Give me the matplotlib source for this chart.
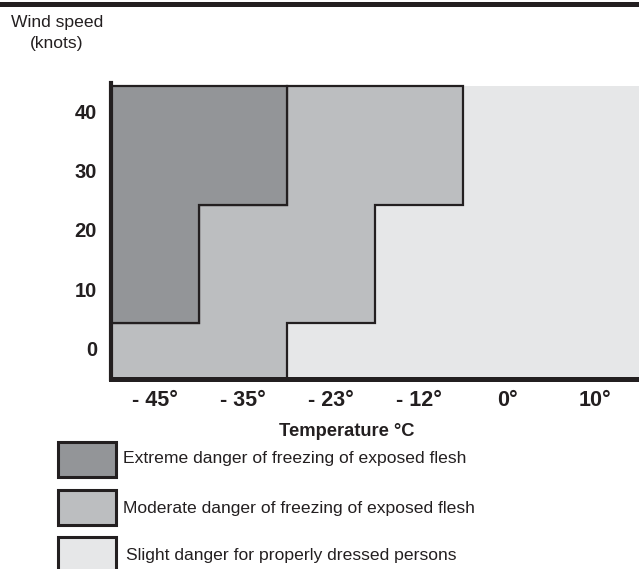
import matplotlib
matplotlib.use('Agg')
import matplotlib.pyplot as plt
from matplotlib.patches import Polygon, Rectangle
from matplotlib.lines import Line2D

# temperature columns and wind speed rows
temp_labels = ['- 45°', '- 35°', '- 23°', '- 12°', '0°', '10°']
wind_ticks = [0, 10, 20, 30, 40]
wind_min, wind_max = -5.2, 44.3

# wind speed (knots) where each danger level starts, per temperature column
moderate_from = [-5.2, -5.2, 4.3, 24.2, 44.3, 44.3]
extreme_from = [4.3, 24.2, 44.3, 44.3, 44.3, 44.3]

zone_names = ['Extreme danger of freezing of exposed flesh',
              'Moderate danger of freezing of exposed flesh',
              'Slight danger for properly dressed persons']
zone_colors = ['#939598', '#bcbec0', '#e6e7e8']
ink = '#231f20'

W, H = 639, 569
REG = ['Liberation Sans', 'DejaVu Sans']


def fx(px):
    return px / W


def fy(py):
    return 1 - py / H


def band_polygon(lo, hi):
    """ Step outline of the columns where hi is above lo """
    cols = [i for i in range(len(lo)) if hi[i] > lo[i]]
    verts = []
    for i in cols:
        verts += [(i - 0.5, hi[i]), (i + 0.5, hi[i])]
    for i in reversed(cols):
        verts += [(i + 0.5, lo[i]), (i - 0.5, lo[i])]
    return verts


fig = plt.figure(figsize=(W / 100, H / 100), dpi=100)
ax = fig.add_axes([fx(111), fy(379.3), fx(639) - fx(111), fy(83) - fy(379.3)])

n = len(temp_labels)
bottom = [wind_min] * n
top = [wind_max] * n

# slight first (no outline), then moderate and extreme with outline
ax.add_patch(Polygon(band_polygon(bottom, moderate_from), closed=True,
                     facecolor=zone_colors[2], edgecolor='none'))
ax.add_patch(Polygon(band_polygon(moderate_from, extreme_from), closed=True,
                     facecolor=zone_colors[1], edgecolor=ink, linewidth=1.6,
                     joinstyle='miter'))
ax.add_patch(Polygon(band_polygon(extreme_from, top), closed=True,
                     facecolor=zone_colors[0], edgecolor=ink, linewidth=1.6,
                     joinstyle='miter'))

ax.set_xlim(-0.5, n - 0.5)
ax.set_ylim(wind_min, 44.8)

ax.set_xticks(range(n))
ax.set_xticklabels(temp_labels, fontsize=15.5, fontweight='bold', family=REG, color=ink)
ax.set_yticks(wind_ticks)
ax.set_yticklabels([str(w) for w in wind_ticks], fontsize=14.5, fontweight='bold',
                   family=REG, color=ink)
ax.tick_params(axis='x', length=0, pad=8)
ax.tick_params(axis='y', length=0, pad=10)

for side in ['top', 'right']:
    ax.spines[side].set_visible(False)
ax.spines['left'].set_linewidth(3)
ax.spines['bottom'].set_linewidth(3.6)
ax.spines['left'].set_color(ink)
ax.spines['bottom'].set_color(ink)

# top rule
fig.add_artist(Line2D([0, 1], [fy(3.5), fy(3.5)], transform=fig.transFigure,
                      color=ink, linewidth=3.6))

fig.text(fx(57), fy(27), 'Wind speed', ha='center', va='baseline',
         fontsize=12.6, family=REG, color=ink)
fig.text(fx(57), fy(48), '(knots)', ha='center', va='baseline',
         fontsize=12.6, family=REG, color=ink)

fig.text(fx(347), fy(436), 'Temperature °C', ha='center', va='baseline',
         fontsize=13.2, fontweight='bold', family=REG, color=ink)

# legend boxes
box_tops = [442, 490, 537]
text_x = [123, 123, 126]
text_base = [463, 513, 560]
for i in range(3):
    fig.add_artist(Rectangle((fx(58), fy(box_tops[i] + 35)), fx(58), 35 / H,
                             transform=fig.transFigure, facecolor=zone_colors[i],
                             edgecolor=ink, linewidth=2.2))
    fig.text(fx(text_x[i]), fy(text_base[i]), zone_names[i], ha='left',
             va='baseline', fontsize=12.6, family=REG, color=ink)

fig.savefig('out.png', dpi=100)
